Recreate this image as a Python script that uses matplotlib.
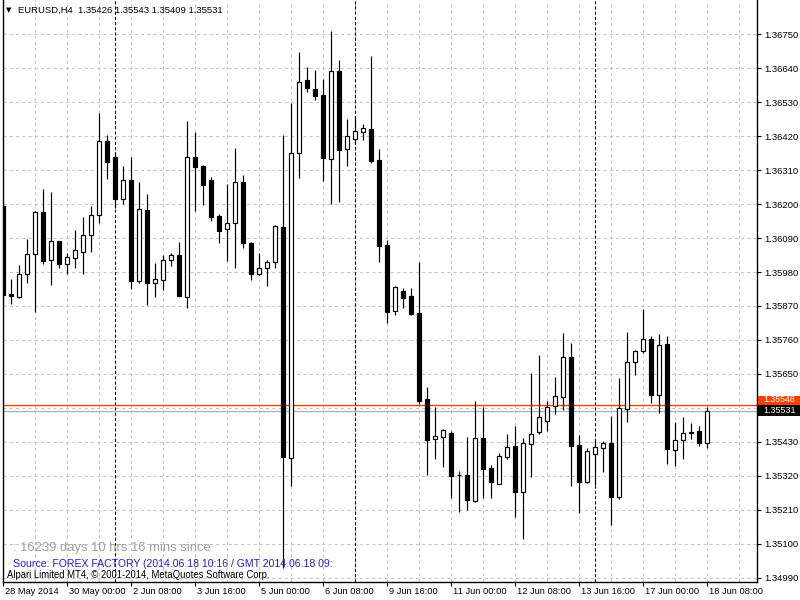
import matplotlib
matplotlib.use('Agg')
import matplotlib.pyplot as plt
import matplotlib.transforms as mtransforms
from matplotlib.patches import Rectangle

# EURUSD H4 bars, 28 May 2014 16:00 .. 18 Jun 2014 08:00
opens = [1.36194, 1.35909, 1.35900, 1.35973, 1.36037, 1.36173, 1.36020, 1.36080, 1.36007, 1.36026,
         1.36046, 1.36101, 1.36164, 1.36403, 1.36352, 1.36218, 1.36277, 1.35952, 1.36180, 1.35945,
         1.35955, 1.36018, 1.36034, 1.35900, 1.36352, 1.36323, 1.36278, 1.36161, 1.36118, 1.36138,
         1.36272, 1.36075, 1.35975, 1.35994, 1.36012, 1.36126, 1.35377, 1.36366, 1.36602, 1.36572,
         1.36553, 1.36347, 1.36630, 1.36378, 1.36410, 1.36435, 1.36443, 1.36343, 1.36068, 1.35853,
         1.35919, 1.35901, 1.35846, 1.35568, 1.35438, 1.35447, 1.35459, 1.35322, 1.35322, 1.35239,
         1.35441, 1.35344, 1.35294, 1.35380, 1.35416, 1.35268, 1.35422, 1.35461, 1.35497, 1.35545,
         1.35574, 1.35704, 1.35419, 1.35301, 1.35390, 1.35409, 1.35425, 1.35252, 1.35535, 1.35690,
         1.35723, 1.35762, 1.35581, 1.35746, 1.35405, 1.35435, 1.35461, 1.35464, 1.35426]
highs = [1.36204, 1.35957, 1.36003, 1.36087, 1.36176, 1.36249, 1.36239, 1.36082, 1.36041, 1.36116,
         1.36158, 1.36194, 1.36495, 1.36424, 1.36368, 1.36323, 1.36352, 1.36271, 1.36232, 1.36008,
         1.36036, 1.36041, 1.36076, 1.36468, 1.36434, 1.36327, 1.36287, 1.36168, 1.36265, 1.36382,
         1.36294, 1.36077, 1.36042, 1.36019, 1.36131, 1.36424, 1.36528, 1.36692, 1.36643, 1.36634,
         1.36605, 1.36761, 1.36667, 1.36476, 1.36484, 1.36460, 1.36680, 1.36379, 1.36085, 1.35935,
         1.35928, 1.35928, 1.36014, 1.35608, 1.35543, 1.35472, 1.35466, 1.35336, 1.35446, 1.35562,
         1.35544, 1.35355, 1.35393, 1.35454, 1.35480, 1.35441, 1.35652, 1.35710, 1.35562, 1.35640,
         1.35782, 1.35749, 1.35451, 1.35409, 1.35435, 1.35432, 1.35513, 1.35637, 1.35786, 1.35727,
         1.35860, 1.35772, 1.35778, 1.35772, 1.35493, 1.35510, 1.35490, 1.35480, 1.35543]
lows = [1.35883, 1.35876, 1.35897, 1.35943, 1.35851, 1.36007, 1.35939, 1.35994, 1.35975, 1.35994,
        1.35975, 1.36046, 1.36140, 1.36282, 1.36186, 1.36201, 1.35926, 1.35945, 1.35874, 1.35900,
        1.35923, 1.36000, 1.35901, 1.35864, 1.36179, 1.36198, 1.36146, 1.36075, 1.36016, 1.35994,
        1.36059, 1.35954, 1.35969, 1.35936, 1.35992, 1.35021, 1.35288, 1.36286, 1.36564, 1.36538,
        1.36275, 1.36201, 1.36208, 1.36324, 1.36398, 1.36408, 1.36334, 1.36014, 1.35816, 1.35842,
        1.35864, 1.35842, 1.35553, 1.35323, 1.35375, 1.35350, 1.35249, 1.35204, 1.35209, 1.35236,
        1.35249, 1.35249, 1.35292, 1.35373, 1.35186, 1.35114, 1.35317, 1.35454, 1.35466, 1.35521,
        1.35533, 1.35288, 1.35200, 1.35298, 1.35291, 1.35333, 1.35161, 1.35244, 1.35495, 1.35646,
        1.35719, 1.35556, 1.35522, 1.35359, 1.35353, 1.35375, 1.35440, 1.35418, 1.35409]
closes = [1.35906, 1.35902, 1.35974, 1.36037, 1.36173, 1.36017, 1.36080, 1.36007, 1.36028, 1.36050,
          1.36099, 1.36164, 1.36403, 1.36337, 1.36218, 1.36277, 1.35952, 1.36183, 1.35945, 1.35956,
          1.36018, 1.36034, 1.35903, 1.36352, 1.36321, 1.36263, 1.36159, 1.36114, 1.36138, 1.36272,
          1.36075, 1.35975, 1.35992, 1.36012, 1.36129, 1.35381, 1.36366, 1.36595, 1.36575, 1.36551,
          1.36350, 1.36630, 1.36375, 1.36420, 1.36436, 1.36446, 1.36340, 1.36065, 1.35852, 1.35931,
          1.35897, 1.35844, 1.35563, 1.35437, 1.35448, 1.35467, 1.35320, 1.35324, 1.35242, 1.35441,
          1.35343, 1.35301, 1.35383, 1.35414, 1.35268, 1.35425, 1.35456, 1.35510, 1.35544, 1.35578,
          1.35704, 1.35418, 1.35301, 1.35399, 1.35412, 1.35425, 1.35252, 1.35539, 1.35688, 1.35723,
          1.35762, 1.35581, 1.35743, 1.35408, 1.35435, 1.35458, 1.35458, 1.35425, 1.35531]

time_labels = ["28 May 2014", "30 May 00:00", "2 Jun 08:00", "3 Jun 16:00", "5 Jun 00:00",
               "6 Jun 08:00", "9 Jun 16:00", "11 Jun 00:00", "12 Jun 08:00", "13 Jun 16:00",
               "17 Jun 00:00", "18 Jun 08:00"]
week_starts = [14, 44, 74]   # Monday 00:00 bars
price_levels = [1.34990, 1.35100, 1.35210, 1.35320, 1.35430, 1.35540, 1.35650, 1.35760,
                1.35870, 1.35980, 1.36090, 1.36200, 1.36310, 1.36420, 1.36530, 1.36640, 1.36750]
bid = 1.35531
ask = 1.35548

W, H = 800, 600
fig = plt.figure(figsize=(8, 6), dpi=100)
fig.patch.set_facecolor('white')
ax = fig.add_axes([3 / W, 18 / H, 754 / W, 582 / H])
ax.set_xlim(-0.0375, 94.21)
ax.set_ylim(1.34976, 1.36861)

# grid
for p in price_levels:
    ax.axhline(p, color='#c4c4c4', lw=0.75, ls=(0, (3, 3)), zorder=0)
for b in range(4, 95, 4):
    ax.axvline(b, color='#c4c4c4', lw=0.75, ls=(0, (3, 3)), zorder=0)
for b in week_starts:
    ax.axvline(b, color='black', lw=0.75, ls=(0, (3, 2)), zorder=1)

# price lines
ax.axhline(bid, color='#b4b4b4', lw=1.0, zorder=1)
ax.axhline(ask, color='#ff4000', lw=1.0, zorder=1)

# candles
xs = list(range(len(opens)))
ax.vlines(xs, lows, highs, color='black', lw=0.85, zorder=2)
bottoms = [min(o, c) for o, c in zip(opens, closes)]
heights = [abs(c - o) for o, c in zip(opens, closes)]
fills = ['white' if c >= o else 'black' for o, c in zip(opens, closes)]
ax.bar(xs, heights, bottom=bottoms, width=0.5, color=fills, edgecolor='black',
       linewidth=0.85, zorder=3)

# axes frame and ticks
ax.spines['top'].set_visible(False)
for s in ['left', 'right', 'bottom']:
    ax.spines[s].set_linewidth(1.0)
ax.yaxis.tick_right()
ax.set_yticks(price_levels)
ax.set_yticklabels(['' if abs(p - 1.35540) < 1e-7 else '%.5f' % p for p in price_levels],
                   fontsize=6.8, family='Liberation Sans')
ax.tick_params(axis='y', direction='out', length=3, width=0.8, pad=2)
ax.set_xticks(range(0, 89, 8))
ax.set_xticklabels([])
ax.tick_params(axis='x', direction='out', length=3, width=0.8)

for i, lab in enumerate(time_labels):
    bx = i * 8
    px = 3 + (bx + 0.0375) * 8
    fig.text((px + 2) / W, 1 - 591 / H, lab, fontsize=6.7, family='Liberation Sans',
             ha='left', va='center')

# bid / ask labels on the price scale
blend = mtransforms.blended_transform_factory(fig.transFigure, ax.transData)
px_price = (1.36861 - 1.34976) / 582
box_h = 11 * px_price
ask_y = ask + 4 * px_price
ax.add_patch(Rectangle((758 / W, ask_y - box_h / 2), 42 / W, box_h, transform=blend,
                       facecolor='#ff4000', edgecolor='none', clip_on=False, zorder=5))
ax.text(763 / W, ask_y + 1.5 * px_price, '%.5f' % ask, transform=blend, color='white',
        fontsize=6.3, family='Liberation Sans', va='center', ha='left', zorder=6)
ax.add_patch(Rectangle((758 / W, bid - box_h / 2), 42 / W, box_h, transform=blend,
                       facecolor='black', edgecolor='none', clip_on=False, zorder=7))
ax.text(763 / W, bid, '%.5f' % bid, transform=blend, color='white', fontsize=6.5,
        family='Liberation Sans', va='center', ha='left', zorder=8)

# header and overlay texts
fig.text(6 / W, 1 - 10 / H, '\u25bc', fontsize=5, ha='left', va='center')
fig.text(18 / W, 1 - 10 / H, 'EURUSD,H4  %.5f %.5f %.5f %.5f' % (opens[-1], highs[-1], lows[-1], closes[-1]),
         fontsize=6.8, family='Liberation Sans', ha='left', va='center')
fig.text(13 / W, 1 - 547.5 / H, ': 16239 days 10 hrs 16 mins since', fontsize=9.4,
         family='Liberation Sans', color='#a0a0a0', ha='left', va='center')
fig.text(13 / W, 1 - 564 / H, 'Source: FOREX FACTORY (2014.06.18 10:16 / GMT 2014.06.18 09:',
         fontsize=7.6, family='Liberation Sans', color='#2020d0', ha='left', va='center')
fig.text(7 / W, 1 - 575.5 / H, 'Alpari Limited MT4, \u00a9 2001-2014, MetaQuotes Software Corp.',
         fontsize=6.85, family='Liberation Sans', color='black', ha='left', va='center')

fig.savefig('out.png', dpi=100)
